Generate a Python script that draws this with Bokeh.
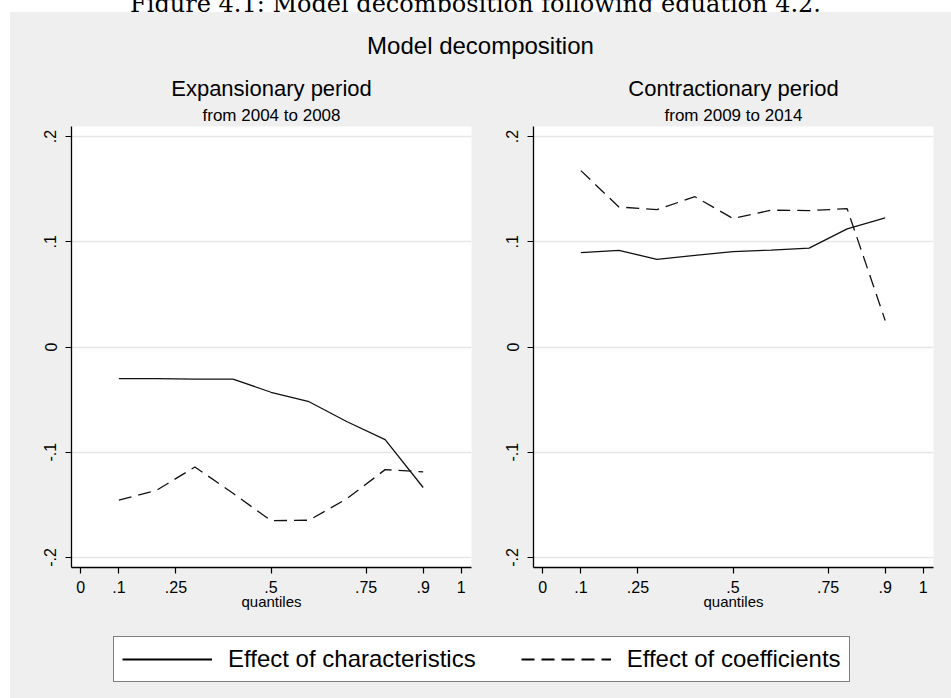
from bokeh.plotting import figure
from bokeh.models import (Range1d, FixedTicker, CustomJSTickFormatter, Title,
                          Legend, LegendItem, Div, Spacer)
from bokeh.layouts import column, row
from bokeh.embed import file_html
from bokeh.resources import INLINE

# ---------------- data ----------------
quantiles = [0.1, 0.2, 0.3, 0.4, 0.5, 0.6, 0.7, 0.8, 0.9]
exp_characteristics = [-0.030, -0.030, -0.0305, -0.0305, -0.043, -0.052, -0.071, -0.088, -0.1335]
exp_coefficients = [-0.1456, -0.136, -0.114, -0.139, -0.165, -0.1646, -0.144, -0.1165, -0.1187]
con_characteristics = [0.0896, 0.0918, 0.0833, 0.0871, 0.0906, 0.0921, 0.094, 0.1123, 0.1226]
con_coefficients = [0.1676, 0.133, 0.1305, 0.1428, 0.122, 0.130, 0.1296, 0.1314, 0.0252]
x_ticks = [0, 0.1, 0.25, 0.5, 0.75, 0.9, 1]
y_ticks = [-0.2, -0.1, 0, 0.1, 0.2]
series_labels = ["Effect of characteristics", "Effect of coefficients"]

GRAY = "#efefef"
FONT = "Liberation Sans"

fmt_code = """
if (tick == 0) return "0";
if (tick == 1) return "1";
var s = (Math.round(tick*100)/100).toString();
return s.replace("0.", ".");
"""


def make_panel(title, subtitle, char_vals, coef_vals, left_b, right_b):
    p = figure(width=left_b + 400 + right_b, height=66 + 441 + 58,
               x_range=Range1d(-0.0245, 1.027), y_range=Range1d(-0.2095, 0.2095),
               output_backend="svg", toolbar_location=None, title=None,
               min_border_left=left_b, min_border_right=right_b,
               min_border_top=66, min_border_bottom=58,
               background_fill_color="white", border_fill_color=GRAY,
               outline_line_color=None)
    p.add_layout(Title(text=subtitle, align="center", text_font_size="17px",
                       text_font=FONT, text_font_style="normal", standoff=3,
                       text_color="black"), "above")
    p.add_layout(Title(text=title, align="center", text_font_size="22px",
                       text_font=FONT, text_font_style="normal", standoff=3,
                       text_color="black"), "above")

    p.line(quantiles, char_vals, line_color="#111111", line_width=1.3)
    p.line(quantiles, coef_vals, line_color="#111111", line_width=1.3, line_dash="13 7")

    p.xgrid.visible = False
    p.ygrid.grid_line_color = "#e6e6e6"
    p.ygrid.grid_line_width = 1.5

    p.xaxis.ticker = FixedTicker(ticks=x_ticks)
    p.yaxis.ticker = FixedTicker(ticks=y_ticks)
    p.xaxis.formatter = CustomJSTickFormatter(code=fmt_code)
    p.yaxis.formatter = CustomJSTickFormatter(code=fmt_code)
    p.xaxis.axis_label = "quantiles"
    p.xaxis.axis_label_text_font = FONT
    p.xaxis.axis_label_text_font_size = "15px"
    p.xaxis.axis_label_text_font_style = "normal"
    p.xaxis.axis_label_text_color = "black"
    p.xaxis.axis_label_standoff = -3
    p.yaxis.major_label_orientation = "vertical"
    for ax in (p.xaxis[0], p.yaxis[0]):
        ax.major_tick_out = 6
        ax.major_tick_in = 0
        ax.minor_tick_out = 0
        ax.minor_tick_in = 0
        ax.axis_line_color = "black"
        ax.axis_line_width = 1.3
        ax.major_tick_line_color = "black"
        ax.major_tick_line_width = 1.2
        ax.major_label_text_font = FONT
        ax.major_label_text_font_size = "16px"
        ax.major_label_text_color = "black"
    p.xaxis.major_label_standoff = 7
    p.yaxis.major_label_standoff = 9
    return p


left = make_panel("Expansionary period", "from 2004 to 2008",
                  exp_characteristics, exp_coefficients, 61, 25)
right = make_panel("Contractionary period", "from 2009 to 2014",
                   con_characteristics, con_coefficients, 37, 18)

# ---------------- legend (key renderers are kept outside the visible range) ----------------
leg = figure(width=941, height=73, x_range=Range1d(0, 1), y_range=Range1d(10, 11),
             output_backend="svg", toolbar_location=None, title=None,
             x_axis_location=None, y_axis_location=None, min_border=0,
             background_fill_color=GRAY, border_fill_color=GRAY,
             outline_line_color=None)
leg.grid.visible = False
r1 = leg.line(quantiles, exp_characteristics, line_color="black", line_width=2)
r2 = leg.line(quantiles, exp_coefficients, line_color="black", line_width=2, line_dash="13 7")
legend = Legend(items=[LegendItem(label=series_labels[0], renderers=[r1]),
                       LegendItem(label=series_labels[1], renderers=[r2])],
                orientation="horizontal", location=(103, 16),
                glyph_width=90, glyph_height=20, label_standoff=16, spacing=45,
                padding=8, margin=0, border_line_color="black", border_line_width=1.2,
                background_fill_color="white", background_fill_alpha=1,
                label_text_font=FONT, label_text_font_size="24px",
                label_text_color="black")
leg.add_layout(legend, "center")

# ---------------- titles ----------------
caption = Div(text='<div style="font-family:\'DejaVu Serif\';font-size:24px;line-height:24px;'
                   'margin-top:-14px;padding-left:10px;text-align:center;width:941px;'
                   'white-space:nowrap;color:black;">'
                   'Figure 4.1: Model decomposition following equation 4.2.</div>',
              width=951, height=12, margin=0,
              styles={"overflow": "hidden", "background-color": "white"})
title_div = Div(text='<div style="font-family:\'Liberation Sans\';font-size:24px;padding-top:17px;'
                     'padding-left:9px;text-align:center;width:932px;color:black;">'
                     'Model decomposition</div>',
                width=941, height=48, margin=0, styles={"background-color": GRAY})

gray = column(title_div, row(left, right, spacing=0), leg, spacing=0,
              styles={"background-color": GRAY})
body = row(Spacer(width=10, height=686), gray, spacing=0)
root = column(caption, body, spacing=0)

open("out.html", "w").write(file_html(root, INLINE))
